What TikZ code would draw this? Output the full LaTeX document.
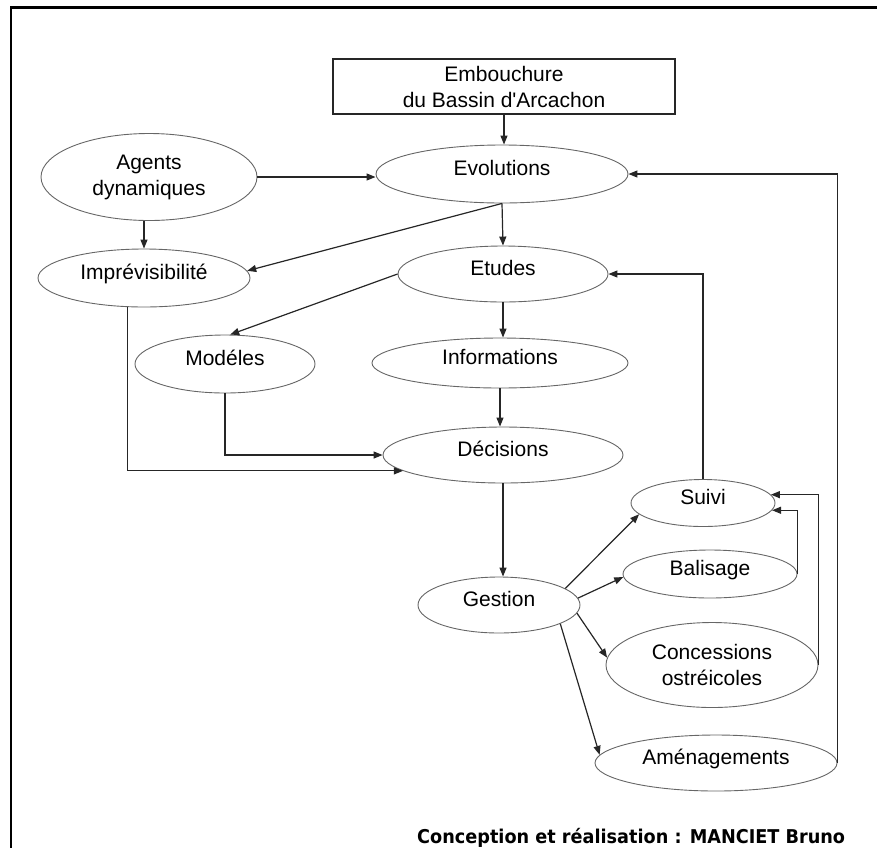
\documentclass[tikz,border=0pt]{standalone}
\usepackage{fontspec}
\newfontfamily\lsans{Liberation Sans}
\newfontfamily\credfont[FakeStretch=0.93]{DejaVu Sans}
\usetikzlibrary{shapes.geometric,arrows.meta}
\begin{document}
\begin{tikzpicture}[x=1pt,y=-1pt,
  txt/.style={font=\lsans\fontsize{21}{26}\selectfont, align=center},
  el/.style={ellipse, draw=black!60, line width=0.9pt, inner sep=0pt, txt},
  one/.style={text height=10pt, text depth=7pt},
  arr/.style={draw=black!85, line width=1.2pt, -{Triangle[length=9pt,width=7pt]}},
]
\useasboundingbox (0,0) rectangle (877,847);
\draw[line width=2.5pt] (11,850) -- (11,7.5) -- (880,7.5);

\node[draw=black!85, line width=1.3pt, minimum width=342pt, minimum height=55pt, inner sep=0pt, txt] (box) at (504,86.5) {Embouchure\\du Bassin d'Arcachon};
\node[el, one, minimum width=252pt, minimum height=58pt] (evol) at (502,174) {Evolutions};
\node[el, minimum width=216pt, minimum height=87pt] (agents) at (149,177) {Agents\\dynamiques};
\node[el, one, minimum width=212pt, minimum height=58pt] (impr) at (144,278) {Imprévisibilité};
\node[el, one, minimum width=210pt, minimum height=56pt] (etudes) at (503,274) {Etudes};
\node[el, one, minimum width=180pt, minimum height=58pt] (modeles) at (225,364) {Modéles};
\node[el, one, minimum width=256pt, minimum height=50pt] (info) at (500,363) {Informations};
\node[el, one, minimum width=240pt, minimum height=56pt] (decisions) at (503,455) {Décisions};
\node[el, one, minimum width=162pt, minimum height=56pt] (gestion) at (499,605) {Gestion};
\node[el, one, minimum width=144pt, minimum height=47pt] (suivi) at (703,503) {Suivi};
\node[el, one, minimum width=174pt, minimum height=48pt] (balisage) at (710,574) {Balisage};
\node[el, minimum width=212pt, minimum height=85pt] (concessions) at (712,665) {Concessions\\ostréicoles};
\node[el, one, minimum width=242pt, minimum height=56pt] (amenag) at (716,763) {Aménagements};

\node[anchor=base west, inner sep=0pt, font=\credfont\bfseries\fontsize{19}{20}\selectfont] (credit) at (417,843) {Conception et réalisation : MANCIET Bruno};

\draw[arr] (box.south) -- (box.south |- evol.north);
\draw[arr] (agents.east) -- (evol.west |- agents.east);
\draw[arr] (impr.north |- agents.south) -- (impr.north);
\draw[arr] (evol.south) -- (impr.4);
\draw[arr] (evol.south) -- (etudes.north);
\draw[arr] (etudes.west) -- (modeles.80);
\draw[arr] (etudes.south) -- (etudes.south |- info.north);
\draw[arr] (info.south) -- (info.south |- decisions.north);
\draw[arr] (impr.241) |- (decisions.189);
\draw[arr] (modeles.south) |- (decisions.west);
\draw[arr] (decisions.south) -- (decisions.south |- gestion.north);
\draw[arr] (gestion.14) -- (suivi.190);
\draw[arr] (gestion.5) -- (balisage.182);
\draw[arr] (gestion.354) -- (concessions.176);
\draw[arr] (gestion.343) -- (amenag.176);
\draw[arr] (suivi.north) |- (etudes.east);
\draw[arr] (balisage.east) |- (suivi.354);
\draw[arr] (concessions.east) |- (suivi.7);
\draw[arr] (amenag.east) |- (evol.east);
\end{tikzpicture}
\end{document}
